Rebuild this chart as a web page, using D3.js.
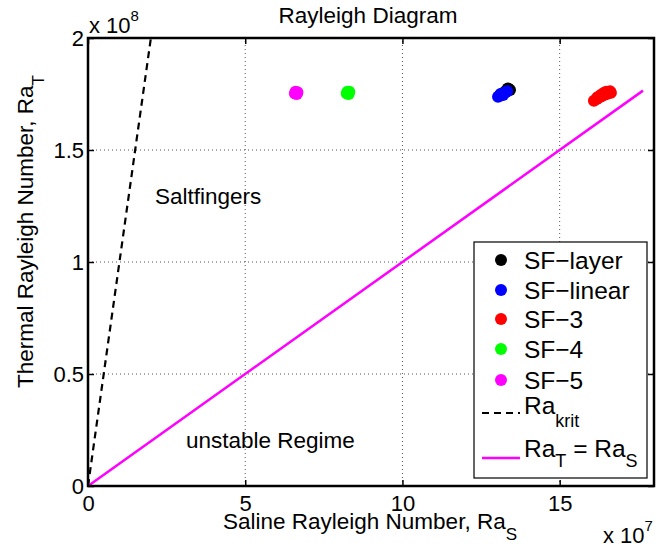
<!DOCTYPE html>
<html>
<head>
<meta charset="utf-8">
<script src="https://cdnjs.cloudflare.com/ajax/libs/d3/7.8.5/d3.min.js"></script>
<style>
  body { margin: 0; background: white; }
  text { font-family: "Liberation Sans", Arial, Helvetica, sans-serif; fill: black; }
</style>
</head>
<body>
<script>
// measured cluster points (Ra_S, Ra_T) per experiment
var sfLayer = [[13.10e7, 1.745e8], [13.20e7, 1.755e8], [13.30e7, 1.765e8],
               [13.38e7, 1.772e8], [13.42e7, 1.768e8], [13.35e7, 1.775e8]];
var sfLinear = [[13.04e7, 1.738e8], [13.10e7, 1.742e8], [13.16e7, 1.748e8],
                [13.22e7, 1.752e8], [13.28e7, 1.758e8], [13.33e7, 1.762e8],
                [13.12e7, 1.750e8], [13.20e7, 1.745e8]];
var sf3 = [[16.09e7, 1.720e8], [16.18e7, 1.728e8], [16.27e7, 1.735e8],
           [16.36e7, 1.742e8], [16.45e7, 1.748e8], [16.54e7, 1.752e8],
           [16.63e7, 1.756e8], [16.60e7, 1.762e8], [16.40e7, 1.755e8],
           [16.30e7, 1.745e8], [16.20e7, 1.735e8], [16.48e7, 1.760e8]];
var sf4 = [[8.23e7, 1.752e8], [8.27e7, 1.756e8], [8.31e7, 1.760e8],
           [8.25e7, 1.760e8], [8.29e7, 1.750e8]];
var sf5 = [[6.58e7, 1.752e8], [6.62e7, 1.756e8], [6.66e7, 1.758e8],
           [6.60e7, 1.760e8], [6.64e7, 1.750e8]];

// reference lines
var raKrit = [[0, 0], [2e7, 2e8]];
var raEqual = [[0, 0], [17.65e7, 1.765e8]];

// names and colours of the scatter series
var seriesNames = ["SF\u2212layer", "SF\u2212linear", "SF\u22123", "SF\u22124", "SF\u22125"];
var seriesColors = ["#000000", "#0000ff", "#ff0000", "#00ff00", "#ff00ff"];
var seriesData = [sfLayer, sfLinear, sf3, sf4, sf5];

// ticks
var xTicks = [0, 5e7, 10e7, 15e7];
var yTicks = [0, 0.5e8, 1e8, 1.5e8, 2e8];

// plot parameters
var margin = { left: 88, right: 13, top: 38, bottom: 63 };
var param = { width: 667, height: 549 };

var svg = d3.select("body")
            .append("svg")
            .attr("width", param.width)
            .attr("height", param.height);

var x = d3.scaleLinear()
          .domain([0, 18e7])
          .range([margin.left, param.width - margin.right]);
var y = d3.scaleLinear()
          .domain([0, 2e8])
          .range([param.height - margin.bottom, margin.top]);

var x0 = x.range()[0], x1 = x.range()[1];
var y0 = y.range()[0], y1 = y.range()[1];

// clip region for plot contents
svg.append("clipPath")
   .attr("id", "plotClip")
   .append("rect")
   .attr("x", x0).attr("y", y1)
   .attr("width", x1 - x0).attr("height", y0 - y1);

// dotted grid
var grid = svg.append("g");
grid.selectAll(".gx")
    .data(xTicks.slice(1))
    .enter()
    .append("line")
    .attr("x1", function(d) { return x(d); })
    .attr("x2", function(d) { return x(d); })
    .attr("y1", y0).attr("y2", y1)
    .attr("stroke", "#555")
    .attr("stroke-width", 1)
    .attr("stroke-dasharray", "1,3");
grid.selectAll(".gy")
    .data(yTicks.slice(1, -1))
    .enter()
    .append("line")
    .attr("y1", function(d) { return y(d); })
    .attr("y2", function(d) { return y(d); })
    .attr("x1", x0).attr("x2", x1)
    .attr("stroke", "#555")
    .attr("stroke-width", 1)
    .attr("stroke-dasharray", "1,3");

// axes with inward ticks on all four sides
var fmtX = function(d) { return d / 1e7; };
var fmtY = function(d) { return d / 1e8; };

function styleAxis(g) {
  g.select(".domain").remove();
  g.selectAll(".tick line").attr("stroke", "black").attr("stroke-width", 1.5);
  g.selectAll(".tick text")
   .style("font-family", "'Liberation Sans', Arial, sans-serif")
   .style("font-size", "22px")
   .attr("fill", "black");
}

svg.append("g")
   .attr("transform", "translate(0," + y0 + ")")
   .call(d3.axisBottom(x).tickValues(xTicks).tickFormat(fmtX)
           .tickSizeInner(-6).tickSizeOuter(0).tickPadding(9))
   .call(styleAxis);
svg.append("g")
   .attr("transform", "translate(0," + y1 + ")")
   .call(d3.axisTop(x).tickValues(xTicks).tickFormat("")
           .tickSizeInner(-6).tickSizeOuter(0))
   .call(styleAxis);
svg.append("g")
   .attr("transform", "translate(" + x0 + ",0)")
   .call(d3.axisLeft(y).tickValues(yTicks).tickFormat(fmtY)
           .tickSizeInner(-6).tickSizeOuter(0).tickPadding(4))
   .call(styleAxis);
svg.append("g")
   .attr("transform", "translate(" + x1 + ",0)")
   .call(d3.axisRight(y).tickValues(yTicks).tickFormat("")
           .tickSizeInner(-6).tickSizeOuter(0))
   .call(styleAxis);

// plot contents
var plot = svg.append("g").attr("clip-path", "url(#plotClip)");
var line = d3.line()
             .x(function(d) { return x(d[0]); })
             .y(function(d) { return y(d[1]); });

plot.append("path")
    .datum(raKrit)
    .attr("d", line)
    .attr("fill", "none")
    .attr("stroke", "black")
    .attr("stroke-width", 2.2)
    .attr("stroke-dasharray", "7,5");

plot.append("path")
    .datum(raEqual)
    .attr("d", line)
    .attr("fill", "none")
    .attr("stroke", "#ff00ff")
    .attr("stroke-width", 2.5);

seriesData.forEach(function(data, i) {
  plot.selectAll(".s" + i)
      .data(data)
      .enter()
      .append("circle")
      .attr("cx", function(d) { return x(d[0]); })
      .attr("cy", function(d) { return y(d[1]); })
      .attr("r", 6)
      .attr("fill", seriesColors[i]);
});

// box
svg.append("rect")
   .attr("x", x0).attr("y", y1)
   .attr("width", x1 - x0).attr("height", y0 - y1)
   .attr("fill", "none")
   .attr("stroke", "black")
   .attr("stroke-width", 2.5);

// annotations
svg.append("text")
   .attr("x", 155).attr("y", 204)
   .style("font-size", "22.5px")
   .text("Saltfingers");
svg.append("text")
   .attr("x", 186).attr("y", 448)
   .style("font-size", "22.5px")
   .text("unstable Regime");

// title
svg.append("text")
   .attr("x", 368).attr("y", 23)
   .attr("text-anchor", "middle")
   .style("font-size", "22.5px")
   .text("Rayleigh Diagram");

// exponent labels
var e8 = svg.append("text").attr("x", 89).attr("y", 33).style("font-size", "22px");
e8.append("tspan").text("x 10");
e8.append("tspan").attr("dy", -12).style("font-size", "15px").text("8");

var e7 = svg.append("text").attr("x", 603).attr("y", 543).style("font-size", "22px");
e7.append("tspan").text("x 10");
e7.append("tspan").attr("dy", -12).style("font-size", "15px").text("7");

// axis labels
var xl = svg.append("text")
            .attr("x", 223).attr("y", 529)
            .style("font-size", "22.5px");
xl.append("tspan").text("Saline Rayleigh Number, Ra");
xl.append("tspan").attr("dy", 11).style("font-size", "17px").text("S");

var yl = svg.append("text")
            .attr("transform", "translate(33,388) rotate(-90)")
            .style("font-size", "22.5px");
yl.append("tspan").text("Thermal Rayleigh Number, Ra");
yl.append("tspan").attr("dy", 11).style("font-size", "17px").text("T");

// legend
var legend = svg.append("g");
legend.append("rect")
      .attr("x", 474).attr("y", 242)
      .attr("width", 173).attr("height", 236)
      .attr("fill", "white")
      .attr("stroke", "black")
      .attr("stroke-width", 1.2);

var rowY = [260, 290, 319, 349, 380];
seriesNames.forEach(function(name, i) {
  legend.append("circle")
        .attr("cx", 501).attr("cy", rowY[i])
        .attr("r", 6)
        .attr("fill", seriesColors[i]);
  legend.append("text")
        .attr("x", 524).attr("y", rowY[i] + 8.5)
        .style("font-size", "24.5px")
        .text(name);
});

legend.append("line")
      .attr("x1", 482).attr("x2", 520)
      .attr("y1", 413).attr("y2", 413)
      .attr("stroke", "black")
      .attr("stroke-width", 2.2)
      .attr("stroke-dasharray", "7,5");
var lk = legend.append("text").attr("x", 524).attr("y", 414).style("font-size", "24.5px");
lk.append("tspan").text("Ra");
lk.append("tspan").attr("dy", 13).style("font-size", "18px").text("krit");

legend.append("line")
      .attr("x1", 482).attr("x2", 520)
      .attr("y1", 458).attr("y2", 458)
      .attr("stroke", "#ff00ff")
      .attr("stroke-width", 2.5);
var le = legend.append("text").attr("x", 524).attr("y", 457).style("font-size", "24.5px");
le.append("tspan").text("Ra");
le.append("tspan").attr("dy", 10).style("font-size", "18px").text("T");
le.append("tspan").attr("dy", -10).text(" = Ra");
le.append("tspan").attr("dy", 10).style("font-size", "18px").text("S");
</script>
</body>
</html>
